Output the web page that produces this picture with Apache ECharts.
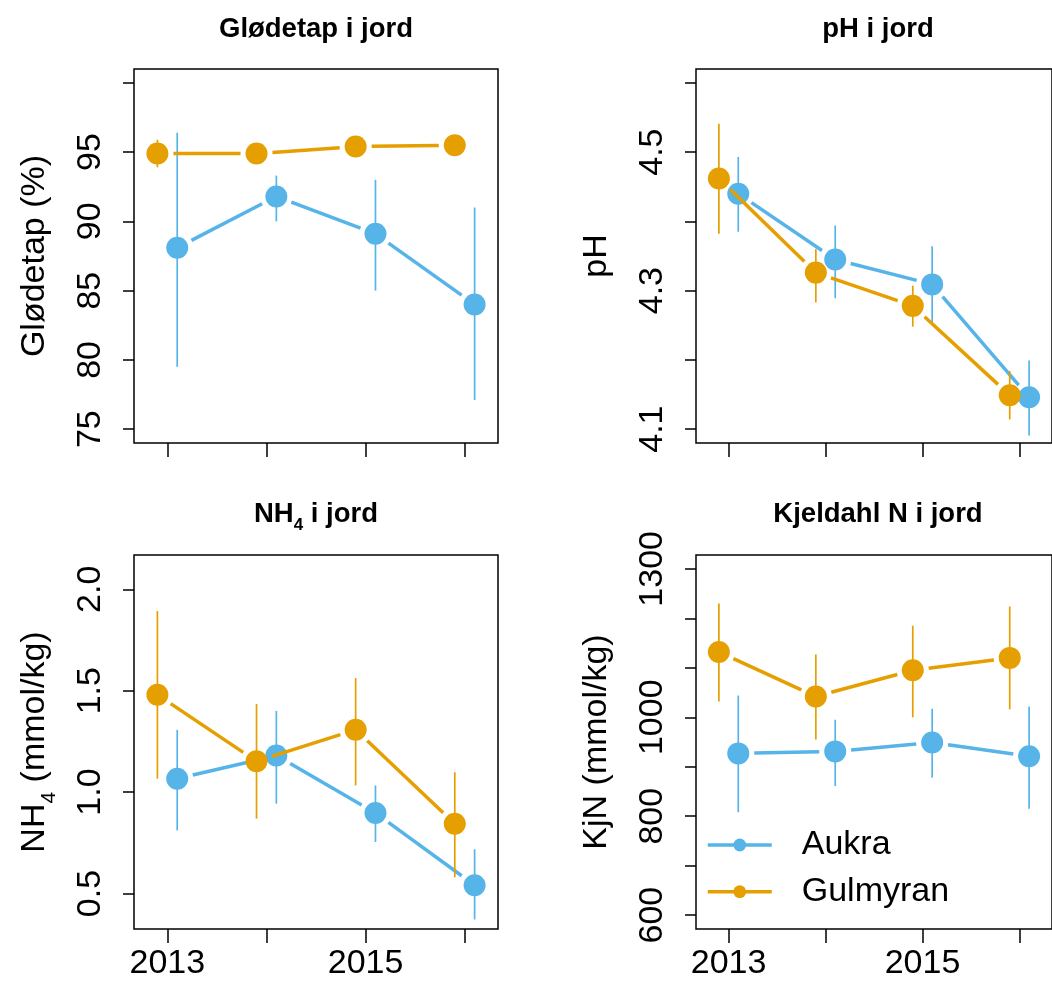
<!DOCTYPE html>
<html>
<head>
<meta charset="utf-8">
<script src="https://cdn.jsdelivr.net/npm/echarts@6/dist/echarts.min.js"></script>
<style>
  html, body { margin: 0; padding: 0; background: #fff; overflow: hidden; }
  #chart { width: 1052px; height: 983px; }
</style>
</head>
<body>
<div id="chart"></div>
<script>
// ---------- data ----------
const years = [2013, 2014, 2015, 2016];
const groups = ['Aukra', 'Gulmyran'];
const dodge = { Aukra: 0.1, Gulmyran: -0.1 };

// Glødetap (%)
const gloAukraMean = [88.1, 91.8, 89.1, 84.0];
const gloAukraLo   = [79.5, 90.0, 85.0, 77.1];
const gloAukraHi   = [96.4, 93.3, 93.0, 91.0];
const gloGulMean   = [94.9, 94.9, 95.4, 95.5];
const gloGulLo     = [93.9, 94.4, 95.0, 95.1];
const gloGulHi     = [95.9, 95.4, 95.8, 95.9];

// pH
const phAukraMean = [4.440, 4.345, 4.309, 4.146];
const phAukraLo   = [4.385, 4.289, 4.253, 4.091];
const phAukraHi   = [4.493, 4.394, 4.364, 4.199];
const phGulMean   = [4.462, 4.326, 4.278, 4.149];
const phGulLo     = [4.382, 4.283, 4.248, 4.114];
const phGulHi     = [4.541, 4.360, 4.307, 4.184];

// NH4 (mmol/kg)
const nhAukraMean = [1.066, 1.180, 0.897, 0.541];
const nhAukraLo   = [0.811, 0.943, 0.754, 0.372];
const nhAukraHi   = [1.307, 1.400, 1.033, 0.718];
const nhGulMean   = [1.480, 1.152, 1.307, 0.844];
const nhGulLo     = [1.066, 0.869, 1.033, 0.580];
const nhGulHi     = [1.893, 1.434, 1.562, 1.098];

// KjN (mmol/kg)
const kjAukraMean = [927, 931, 949, 921];
const kjAukraLo   = [808, 861, 878, 815];
const kjAukraHi   = [1044, 995, 1017, 1022];
const kjGulMean   = [1132, 1042, 1095, 1120];
const kjGulLo     = [1032, 955, 1000, 1016];
const kjGulHi     = [1230, 1127, 1185, 1224];

// axis ticks / labels
const xTickValues = [2013, 2014, 2015, 2016];
const xLabelValues = [2013, 2015];
const gloTicks = [75, 80, 85, 90, 95, 100];
const gloLabels = [75, 80, 85, 90, 95];
const phTicks = [4.1, 4.2, 4.3, 4.4, 4.5, 4.6];
const phLabels = [4.1, 4.3, 4.5];
const nhTicks = [0.5, 1.0, 1.5, 2.0];
const nhLabels = [0.5, 1.0, 1.5, 2.0];
const kjTicks = [600, 700, 800, 900, 1000, 1100, 1200, 1300];
const kjLabels = [600, 800, 1000, 1300];

// ---------- styling ----------
const FONT = '"Liberation Sans", Arial, sans-serif';
const COLORS = { Aukra: '#56B4E9', Gulmyran: '#E69F00' };
const GAP = 16;
const SYM = 22;
const LW = 3.5;

const panels = [
  { title: 'Glødetap i jord', name: 'Glødetap (%)', left: 134, top: 69, ymin: 74, ymax: 101,
    ticks: gloTicks, labels: gloLabels, fmt: v => String(v), xlab: false,
    A: [gloAukraMean, gloAukraLo, gloAukraHi], G: [gloGulMean, gloGulLo, gloGulHi] },
  { title: 'pH i jord', name: 'pH', left: 696, top: 69, ymin: 4.08, ymax: 4.62,
    ticks: phTicks, labels: phLabels, fmt: v => v.toFixed(1), xlab: false,
    A: [phAukraMean, phAukraLo, phAukraHi], G: [phGulMean, phGulLo, phGulHi] },
  { title: '{b|NH}{bs|4}{b| i jord}', name: '{a|NH}{s|4}{a| (mmol/kg)}', left: 134, top: 555, ymin: 0.325, ymax: 2.169,
    ticks: nhTicks, labels: nhLabels, fmt: v => v.toFixed(1), xlab: true,
    A: [nhAukraMean, nhAukraLo, nhAukraHi], G: [nhGulMean, nhGulLo, nhGulHi] },
  { title: 'Kjeldahl N i jord', name: 'KjN (mmol/kg)', left: 696, top: 555, ymin: 572, ymax: 1328,
    ticks: kjTicks, labels: kjLabels, fmt: v => String(v), xlab: true,
    A: [kjAukraMean, kjAukraLo, kjAukraHi], G: [kjGulMean, kjGulLo, kjGulHi] }
];

const W = 364, H = 374;
const grids = [], xAxes = [], yAxes = [], titles = [], series = [];

// legend carriers (line series, no data)
groups.forEach(g => {
  series.push({
    type: 'line', name: g, data: [], xAxisIndex: 3, yAxisIndex: 3,
    symbol: 'circle', lineStyle: { width: LW, color: COLORS[g] }, itemStyle: { color: COLORS[g] }
  });
});

function errSeries(idx, g, mean, lo, hi, z) {
  const data = years.map((y, i) => [y + dodge[g], lo[i], hi[i]]);
  return {
    type: 'custom', name: g + ' err', xAxisIndex: idx, yAxisIndex: idx, z: z, silent: true,
    data: data, encode: { x: 0, y: [1, 2] },
    renderItem: (params, api) => {
      const p1 = api.coord([api.value(0), api.value(1)]);
      const p2 = api.coord([api.value(0), api.value(2)]);
      return { type: 'line', shape: { x1: p1[0], y1: p1[1], x2: p2[0], y2: p2[1] },
               style: { stroke: COLORS[g], lineWidth: 1.7 } };
    }
  };
}

function segSeries(idx, g, mean, z) {
  const data = years.map((y, i) => [y + dodge[g], mean[i]]);
  return {
    type: 'custom', name: g + ' line', xAxisIndex: idx, yAxisIndex: idx, z: z, silent: true,
    data: data, encode: { x: 0, y: 1 },
    renderItem: (params, api) => {
      const i = params.dataIndex;
      if (i >= data.length - 1) return { type: 'group', children: [] };
      const a = api.coord(data[i]);
      const b = api.coord(data[i + 1]);
      const dx = b[0] - a[0], dy = b[1] - a[1];
      const L = Math.hypot(dx, dy);
      if (L <= 2 * GAP) return { type: 'group', children: [] };
      const ux = dx / L, uy = dy / L;
      return { type: 'line',
               shape: { x1: a[0] + ux * GAP, y1: a[1] + uy * GAP, x2: b[0] - ux * GAP, y2: b[1] - uy * GAP },
               style: { stroke: COLORS[g], lineWidth: LW } };
    }
  };
}

function ptSeries(idx, g, mean, z) {
  return {
    type: 'scatter', name: g + ' points', xAxisIndex: idx, yAxisIndex: idx, z: z, silent: true,
    symbol: 'circle', symbolSize: SYM, itemStyle: { color: COLORS[g], opacity: 1 },
    data: years.map((y, i) => [y + dodge[g], mean[i]])
  };
}

const TFS = 27.5;
const titleRich = {
  b: { fontFamily: FONT, fontSize: TFS, fontWeight: 'bold', color: '#000' },
  bs: { fontFamily: FONT, fontSize: 17, fontWeight: 'bold', color: '#000', verticalAlign: 'bottom', padding: [0, 0, -6, 0] }
};
const nameRich = {
  a: { fontFamily: FONT, fontSize: 34, color: '#000' },
  s: { fontFamily: FONT, fontSize: 21, color: '#000', verticalAlign: 'bottom', padding: [0, 0, -8, 0] }
};

panels.forEach((p, idx) => {
  grids.push({ left: p.left, top: p.top, width: W, height: H, show: true,
               borderColor: '#000', borderWidth: 1.5, backgroundColor: 'transparent', containLabel: false });
  xAxes.push({
    type: 'value', gridIndex: idx, min: 2012.664, max: 2016.336,
    axisLine: { show: false }, splitLine: { show: false },
    axisTick: { show: true, inside: false, length: 14, customValues: xTickValues,
                lineStyle: { color: '#000', width: 1.5 } },
    axisLabel: { show: p.xlab, customValues: xLabelValues, margin: 18,
                 fontFamily: FONT, fontSize: 34, color: '#000', formatter: v => String(v) }
  });
  yAxes.push({
    type: 'value', gridIndex: idx, min: p.ymin, max: p.ymax,
    name: p.name, nameLocation: 'middle', nameRotate: 90, nameGap: 82,
    nameTextStyle: { fontFamily: FONT, fontSize: 34, color: '#000', rich: nameRich },
    axisLine: { show: false }, splitLine: { show: false },
    axisTick: { show: true, inside: false, length: 11, customValues: p.ticks,
                lineStyle: { color: '#000', width: 1.5 } },
    axisLabel: { show: true, customValues: p.labels, rotate: 90, margin: 26,
                 fontFamily: FONT, fontSize: 34, color: '#000', formatter: p.fmt }
  });
  titles.push({
    text: p.title, left: p.left + W / 2, top: idx < 2 ? 29 : 514, padding: 0,
    textAlign: 'center', textVerticalAlign: 'middle',
    textStyle: { fontFamily: FONT, fontSize: TFS, fontWeight: 'bold', color: '#000', rich: titleRich }
  });
  series.push(errSeries(idx, 'Aukra', p.A[0], p.A[1], p.A[2], 2));
  series.push(segSeries(idx, 'Aukra', p.A[0], 3));
  series.push(ptSeries(idx, 'Aukra', p.A[0], 4));
  series.push(errSeries(idx, 'Gulmyran', p.G[0], p.G[1], p.G[2], 5));
  series.push(segSeries(idx, 'Gulmyran', p.G[0], 6));
  series.push(ptSeries(idx, 'Gulmyran', p.G[0], 7));
});

const chart = echarts.init(document.getElementById('chart'), null, { renderer: 'canvas' });
chart.setOption({
  animation: false,
  backgroundColor: '#fff',
  title: titles,
  grid: grids,
  xAxis: xAxes,
  yAxis: yAxes,
  legend: {
    data: groups, orient: 'vertical', left: 706, top: 826, padding: 0,
    itemWidth: 64, itemHeight: 16, itemGap: 8.7, selectedMode: false,
    lineStyle: { width: LW },
    textStyle: { fontFamily: FONT, fontSize: 34, color: '#000', lineHeight: 34, padding: [4, 0, 0, 25] }
  },
  series: series
});
</script>
</body>
</html>
